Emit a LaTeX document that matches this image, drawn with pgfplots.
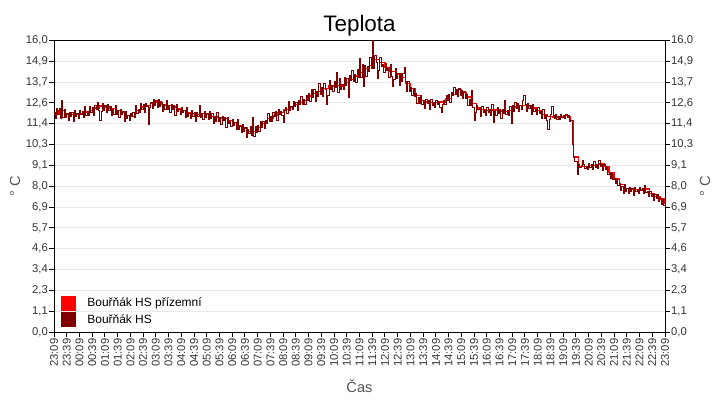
\documentclass[border=0pt]{standalone}
\usepackage{fontspec}
\setmainfont{Liberation Sans}
\usepackage{pgfplots}
\usepackage{pgfplotstable}
\pgfplotsset{compat=1.18}
\definecolor{hsroom}{HTML}{FF0000}
\definecolor{hsdark}{HTML}{800000}
\definecolor{gridgray}{HTML}{E9E9E9}
\definecolor{ticktext}{HTML}{333333}
\definecolor{labeltext}{HTML}{555555}

% hours since 23:09
\pgfplotstableread{
h v
0.0 11.94
0.2 12.15
0.4 11.95
0.6 11.92
0.8 11.95
1.0 12.0
1.2 12.08
1.4 12.16
1.6 12.3
1.8 12.4
2.0 12.35
2.2 12.27
2.4 12.15
2.6 12.05
2.8 11.9
3.0 11.85
3.2 12.15
3.4 12.35
3.6 12.45
3.8 12.55
4.0 12.62
4.2 12.5
4.4 12.42
4.6 12.35
4.8 12.28
5.0 12.15
5.2 12.05
5.4 11.98
5.6 11.92
5.8 11.98
6.0 11.92
6.2 11.85
6.4 11.78
6.6 11.7
6.8 11.6
7.0 11.5
7.2 11.35
7.4 11.2
7.6 11.02
7.8 11.0
8.0 11.22
8.2 11.45
8.4 11.7
8.6 11.9
8.8 12.05
9.0 12.2
9.2 12.35
9.4 12.48
9.6 12.58
9.8 12.72
10.0 12.95
10.2 13.1
10.4 13.22
10.6 13.38
10.8 13.5
11.0 13.52
11.2 13.5
11.4 13.68
11.6 13.88
11.8 14.05
12.0 14.25
12.2 14.45
12.4 14.62
12.6 14.95
12.8 14.8
13.0 14.5
13.2 14.28
13.4 14.15
13.6 13.98
13.8 13.65
14.0 13.35
14.2 13.0
14.4 12.7
14.6 12.62
14.8 12.6
15.0 12.58
15.2 12.62
15.4 12.8
15.6 13.05
15.8 13.3
16.0 13.15
16.2 12.9
16.4 12.55
16.6 12.3
16.8 12.2
17.0 12.15
17.2 12.18
17.4 12.15
17.6 12.1
17.8 12.15
18.0 12.35
18.2 12.45
18.4 12.43
18.6 12.4
18.8 12.3
19.0 12.15
19.2 11.95
19.4 11.85
19.6 11.8
19.8 11.82
20.0 11.88
20.2 11.85
20.3 11.6
20.4 9.6
20.6 9.1
20.8 9.08
21.0 9.12
21.2 9.15
21.4 9.22
21.6 9.1
21.8 8.75
22.0 8.4
22.2 8.1
22.4 7.88
22.6 7.82
22.8 7.8
23.0 7.82
23.2 7.85
23.4 7.6
23.6 7.45
23.8 7.3
24.0 7.05
}\roomtable

\pgfplotstableread{
h v
0.00 12.03
0.05 11.73
0.10 12.25
0.15 11.96
0.20 12.27
0.25 11.74
0.30 12.70
0.35 11.78
0.40 12.24
0.45 11.75
0.50 11.99
0.55 11.62
0.60 12.07
0.65 11.84
0.70 12.04
0.75 11.55
0.80 12.14
0.85 11.81
0.90 11.98
0.95 11.73
1.00 12.15
1.05 11.92
1.10 12.09
1.15 11.77
1.20 12.37
1.25 11.90
1.30 12.10
1.35 11.88
1.40 12.36
1.45 12.05
1.50 12.32
1.55 11.88
1.60 12.42
1.65 12.21
1.70 12.61
1.75 12.16
1.80 11.60
1.85 12.08
1.90 12.53
1.95 12.17
2.00 12.44
2.05 12.07
2.10 12.51
2.15 12.15
2.20 12.39
2.25 11.88
2.30 12.23
2.35 11.96
2.40 12.44
2.45 11.94
2.50 12.15
2.55 11.77
2.60 12.20
2.65 11.92
2.70 12.08
2.75 11.55
2.80 12.09
2.85 11.74
2.90 11.88
2.95 11.60
3.00 12.00
3.05 11.83
3.10 12.05
3.15 11.79
3.20 12.44
3.25 12.00
3.30 12.23
3.35 12.04
3.40 12.55
3.45 12.23
3.50 12.49
3.55 12.04
3.60 12.57
3.65 12.36
3.70 11.40
3.75 12.31
3.80 12.58
3.85 12.26
3.90 12.74
3.95 12.41
4.00 12.71
4.05 12.33
4.10 12.76
4.15 12.39
4.20 12.62
4.25 12.12
4.30 12.48
4.35 12.22
4.40 12.71
4.45 12.21
4.50 12.44
4.55 12.06
4.60 12.50
4.65 12.24
4.70 12.42
4.75 11.91
4.80 12.47
4.85 12.10
4.90 12.22
4.95 11.92
5.00 12.30
5.05 12.03
5.10 12.15
5.15 11.79
5.20 12.34
5.25 11.83
5.30 12.00
5.35 11.74
5.40 12.18
5.45 11.82
5.50 12.04
5.55 11.55
5.60 12.04
5.65 11.82
5.70 12.45
5.75 11.75
5.80 12.01
5.85 11.66
5.90 12.10
5.95 11.75
6.00 12.01
6.05 11.64
6.10 12.09
6.15 11.73
6.20 11.97
6.25 11.47
6.30 11.84
6.35 11.58
6.40 12.07
6.45 11.57
6.50 11.79
6.55 11.41
6.60 11.85
6.65 11.59
6.70 11.75
6.75 11.24
6.80 11.79
6.85 11.43
6.90 11.55
6.95 11.27
7.00 11.65
7.05 11.36
7.10 11.48
7.15 11.10
7.20 11.64
7.25 11.11
7.30 11.26
7.35 10.98
7.40 11.40
7.45 11.01
7.50 11.20
7.55 10.68
7.60 11.14
7.65 10.90
7.70 11.27
7.75 10.79
7.80 11.80
7.85 10.75
7.90 11.26
7.95 10.98
8.00 11.31
8.05 11.02
8.10 11.54
8.15 11.25
8.20 11.57
8.25 11.15
8.30 11.60
8.35 11.42
8.40 11.99
8.45 11.56
8.50 11.85
8.55 11.54
8.60 12.05
8.65 11.85
8.70 12.08
8.75 11.62
8.80 12.24
8.85 11.94
8.90 12.13
8.95 11.90
9.00 11.50
9.05 12.14
9.10 12.33
9.15 12.02
9.20 12.64
9.25 12.18
9.30 12.40
9.35 12.19
9.40 12.68
9.45 12.36
9.50 12.62
9.55 12.17
9.60 12.70
9.65 12.50
9.70 12.91
9.75 12.47
9.80 12.75
9.85 12.47
9.90 12.99
9.95 12.70
10.00 13.09
10.05 12.66
10.10 13.34
10.15 12.90
10.20 13.30
10.25 12.67
10.30 13.21
10.35 12.92
10.40 13.65
10.45 13.04
10.50 13.40
10.55 12.95
10.60 13.63
10.65 13.32
10.70 12.50
10.75 12.96
10.80 13.79
10.85 13.33
10.90 13.54
10.95 13.19
11.00 13.77
11.05 13.42
11.10 14.25
11.15 13.15
11.20 13.93
11.25 13.30
11.30 13.60
11.35 13.31
11.40 13.99
11.45 13.55
11.50 13.92
11.55 12.90
11.60 14.08
11.65 13.79
11.70 14.34
11.75 13.74
11.80 14.13
11.85 13.71
11.90 14.40
11.95 13.98
12.00 15.00
12.05 13.97
12.10 14.66
12.15 13.50
12.20 14.65
12.25 14.03
12.30 14.59
12.35 14.31
12.40 15.05
12.45 14.48
12.50 16.00
12.55 14.45
12.60 15.20
12.65 14.82
12.70 13.90
12.75 14.33
12.80 15.09
12.85 14.55
12.90 14.68
12.95 14.25
13.00 14.75
13.05 14.35
13.10 14.49
13.15 13.98
13.20 14.71
13.25 14.00
13.30 13.50
13.35 13.85
13.40 14.46
13.45 13.93
13.50 14.21
13.55 13.51
13.60 14.18
13.65 13.77
13.70 14.20
13.75 14.50
13.80 13.73
13.85 13.19
13.90 13.75
13.95 13.21
14.00 13.44
14.05 13.00
14.10 13.38
14.15 12.95
14.20 13.12
14.25 12.57
14.30 12.87
14.35 12.56
14.40 12.99
14.45 12.49
14.50 12.71
14.55 12.25
14.60 12.77
14.65 12.53
14.70 12.71
14.75 12.22
14.80 12.79
14.85 12.45
14.90 12.59
14.95 12.33
15.00 12.73
15.05 12.49
15.10 12.65
15.15 12.32
15.20 12.05
15.25 12.47
15.30 12.69
15.35 12.50
15.40 13.00
15.45 12.71
15.50 13.02
15.55 12.60
15.60 13.17
15.65 12.99
15.70 13.44
15.75 13.02
15.80 13.33
15.85 12.95
15.90 13.38
15.95 13.00
16.00 13.24
16.05 12.83
16.10 13.23
16.15 12.82
16.20 13.02
16.25 12.45
16.30 12.75
16.35 12.42
16.40 13.26
16.45 12.30
16.50 11.60
16.55 12.05
16.60 12.45
16.65 12.19
16.70 12.35
16.75 11.84
16.80 12.39
16.85 12.04
16.90 12.18
16.95 11.90
17.00 12.30
17.05 12.06
17.10 12.22
17.15 11.88
17.20 12.47
17.25 11.50
17.30 12.15
17.35 11.90
17.40 12.35
17.45 11.99
17.50 12.22
17.55 11.72
17.60 12.22
17.65 11.99
17.70 12.70
17.75 11.92
17.80 12.18
17.85 11.89
17.90 12.40
17.95 11.47
18.00 12.44
18.05 12.12
18.10 12.60
18.15 12.29
18.20 12.57
18.25 12.09
18.30 12.46
18.35 12.22
18.40 12.72
18.45 13.00
18.50 12.47
18.55 12.10
18.60 12.55
18.65 12.29
18.70 12.45
18.75 11.94
18.80 12.49
18.85 12.11
18.90 12.23
18.95 11.93
19.00 12.30
19.05 12.00
19.10 12.10
19.15 11.71
19.20 12.24
19.25 11.73
19.30 11.88
19.35 11.62
19.40 11.10
19.45 11.69
19.50 11.92
19.55 12.40
19.60 11.87
19.65 11.74
19.70 11.96
19.75 11.69
19.80 11.84
19.85 11.66
19.90 11.94
19.95 11.76
20.00 11.91
20.05 11.74
20.10 11.96
20.15 11.79
20.20 11.90
20.25 11.56
20.30 11.60
20.35 10.30
20.40 9.62
20.45 9.34
20.50 9.38
20.55 8.65
20.60 9.21
20.65 9.02
20.70 9.15
20.75 9.40
20.80 9.20
20.85 8.97
20.90 9.09
20.95 8.91
21.00 9.23
21.05 9.05
21.10 9.17
21.15 8.93
21.20 9.35
21.25 9.02
21.30 9.18
21.35 9.00
21.40 9.42
21.45 9.07
21.50 9.21
21.55 8.84
21.60 9.18
21.65 8.92
21.70 9.10
21.75 8.67
21.80 8.77
21.85 8.43
21.90 8.69
21.95 8.35
22.00 8.45
22.05 8.13
22.10 8.39
22.15 8.07
22.20 8.18
22.25 7.79
22.30 7.99
22.35 7.60
22.40 8.08
22.45 7.73
22.50 7.88
22.55 7.61
22.60 7.93
22.65 7.74
22.70 7.87
22.75 7.52
22.80 7.92
22.85 7.69
22.90 7.80
22.95 7.62
23.00 7.93
23.05 7.75
23.10 7.86
23.15 7.63
23.20 8.05
23.25 7.64
23.30 7.71
23.35 7.46
23.40 7.74
23.45 7.44
23.50 7.58
23.55 7.20
23.60 7.53
23.65 7.32
23.70 7.55
23.75 7.17
23.80 7.32
23.85 7.01
23.90 7.29
23.95 6.97
24.00 7.05
}\hstable

\pgfplotsset{
  tepl/.style={
    at={(54bp,68bp)}, anchor=south west,
    scale only axis, width=611bp, height=291.5bp,
    xmin=0, xmax=24, ymin=0, ymax=16,
    axis line style={black, line width=1bp},
    tick style={black, line width=1bp},
    tick align=outside,
    major tick length=5bp,
    ytick={0,1.142857,2.285714,3.428571,4.571429,5.714286,6.857143,8,9.142857,10.285714,11.428571,12.571429,13.714286,14.857143,16},
    yticklabels={{0,0},{1,1},{2,3},{3,4},{4,6},{5,7},{6,9},{8,0},{9,1},{10,3},{11,4},{12,6},{13,7},{14,9},{16,0}},
    yticklabel style={font=\fontsize{11.3}{13}\selectfont, text=ticktext, inner sep=1bp},
    ylabel={° C},
    label style={font=\fontsize{14.7}{17}\selectfont, text=labeltext},
  }
}

\begin{document}
\begin{tikzpicture}
\path[use as bounding box] (0,0) rectangle (720bp,400bp);
\begin{axis}[
    tepl,
    xtick={0,0.5,...,24},
    xticklabels={23:09,23:39,00:09,00:39,01:09,01:39,02:09,02:39,03:09,03:39,04:09,04:39,05:09,05:39,06:09,06:39,07:09,07:39,08:09,08:39,09:09,09:39,10:09,10:39,11:09,11:39,12:09,12:39,13:09,13:39,14:09,14:39,15:09,15:39,16:09,16:39,17:09,17:39,18:09,18:39,19:09,19:39,20:09,20:39,21:09,21:39,22:09,22:39,23:09},
    xticklabel style={rotate=90, anchor=east, font=\fontsize{11.3}{13}\selectfont, text=ticktext, inner sep=1.5bp},
    xtick pos=left, ytick pos=left,
    ymajorgrids, grid style={draw=gridgray, line width=1bp},
    title={Teplota},
    title style={at={(0.5,1)}, anchor=base, yshift=3bp, inner sep=0pt, font=\fontsize{22.5}{26}\selectfont},
    xlabel={Čas},
    xlabel style={at={(0.5,0)}, anchor=base, yshift=-60bp, inner sep=0pt},
    ylabel style={at={(0,0.5)}, anchor=center, yshift=39bp, inner sep=0pt},
    legend style={at={(0,0)}, anchor=south west, xshift=4bp, yshift=3bp, draw=none, fill=none,
      font=\fontsize{12}{14}\selectfont, row sep=1bp},
    legend cell align=left,
]
\addplot[const plot, color=hsroom, line width=1.2bp,
  legend image code/.code={\fill[hsroom] (0bp,-7bp) rectangle (14bp,7bp); \path (23bp,0bp);}]
  table[x=h, y=v] {\roomtable};
\addlegendentry{Bouřňák HS přízemní}
\addplot[const plot, color=hsdark, line width=0.9bp,
  legend image code/.code={\fill[hsdark] (0bp,-7bp) rectangle (14bp,7bp); \path (23bp,0bp);}]
  table[x=h, y=v] {\hstable};
\addlegendentry{Bouřňák HS}
\end{axis}
\begin{axis}[
    tepl,
    hide x axis,
    axis y line*=right,
    ylabel style={at={(1,0.5)}, anchor=center, yshift=-40bp, inner sep=0pt},
]
\end{axis}
\end{tikzpicture}
\end{document}
